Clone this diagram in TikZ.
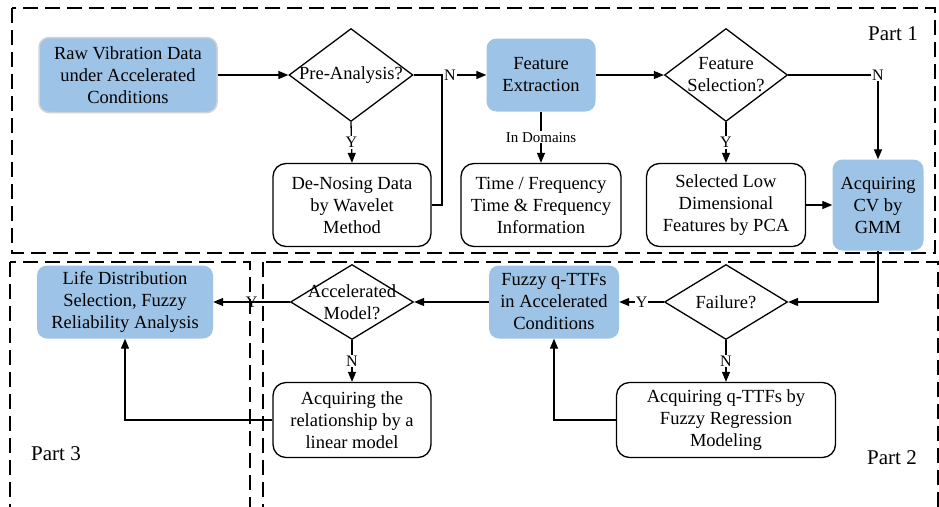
\documentclass[tikz,border=0pt]{standalone}
\usepackage{fontspec}
\setmainfont{Liberation Serif}
\usetikzlibrary{arrows.meta,shapes.geometric}
\definecolor{boxblue}{RGB}{157,195,230}
\tikzset{
  x=1pt,y=-1pt,
  txt/.style={font=\fontsize{18.5}{22}\selectfont, align=center},
  bluebox/.style={txt, rectangle, rounded corners=10pt, fill=boxblue, draw=none, inner sep=0pt},
  whitebox/.style={txt, rectangle, rounded corners=13pt, fill=white, draw=black, line width=1.3pt, inner sep=0pt},
  dia/.style={diamond, draw=black, line width=1.3pt, fill=white, inner sep=0pt},
  conn/.style={line width=1.3pt, draw=black},
  arr/.style={conn, -{Triangle[length=10pt,width=8pt]}},
  yn/.style={font=\fontsize{16}{18}\selectfont, fill=white, inner sep=1pt},
  part/.style={dashed, dash pattern=on 15pt off 7pt, line width=1.2pt},
  partlbl/.style={font=\fontsize{21}{24}\selectfont},
}
\begin{document}
\begin{tikzpicture}
\useasboundingbox (0,0) rectangle (939,506);
\clip (0,0) rectangle (939,506);
% part frames
\draw[part] (12,8) rectangle (935,253);
\draw[part] (10,262) rectangle (250,520);
\draw[part] (263,262) rectangle (938,520);
\node[partlbl] (p1) at (893,34) {Part 1};
\node[partlbl] (p2) at (892,458) {Part 2};
\node[partlbl] (p3) at (56,454) {Part 3};

% nodes
\node[bluebox, draw=gray!35, line width=1.5pt, minimum width=178pt, minimum height=75pt] (raw) at (128,75) {Raw Vibration Data\\under Accelerated\\Conditions};
\node[dia, minimum width=124pt, minimum height=93pt] (pa) at (351,75) {};
\node[txt] (paT) at (pa.center) {Pre-Analysis?};
\node[whitebox, minimum width=158pt, minimum height=83pt] (den) at (352,205) {De-Nosing Data\\by Wavelet\\Method};
\node[bluebox, minimum width=109pt, minimum height=73pt] (fe) at (541,75) {Feature\\Extraction};
\node[whitebox, minimum width=160pt, minimum height=83pt] (tf) at (541,205) {Time / Frequency\\Time \& Frequency\\Information};
\node[dia, minimum width=123pt, minimum height=93pt] (fs) at (726,75) {};
\node[txt] (fsT) at (fs.center) {Feature\\Selection?};
\node[whitebox, minimum width=159pt, minimum height=83pt] (sel) at (726,205) {Selected Low\\Dimensional\\Features by PCA};
\node[bluebox, minimum width=91pt, minimum height=91pt] (cv) at (878,205) {Acquiring\\CV by\\GMM};
\node[bluebox, minimum width=176pt, minimum height=73pt] (life) at (125,302) {Life Distribution\\Selection, Fuzzy\\Reliability Analysis};
\node[dia, minimum width=123pt, minimum height=75pt] (am) at (352,302) {};
\node[txt] (amT) at (am.center) {Accelerated\\Model?};
\node[whitebox, minimum width=158pt, minimum height=75pt] (rel) at (352,420) {Acquiring the\\relationship by a\\linear model};
\node[bluebox, minimum width=130pt, minimum height=73pt] (fq) at (554,302) {Fuzzy q-TTFs\\in Accelerated\\Conditions};
\node[dia, minimum width=123pt, minimum height=75pt] (fail) at (726,302) {};
\node[txt] (failT) at (fail.center) {Failure?};
\node[whitebox, minimum width=219pt, minimum height=75pt] (aq) at (726,420) {Acquiring q-TTFs by\\Fuzzy Regression\\Modeling};

% connectors
\coordinate (j1) at (442,75);
\coordinate (c1) at (878,75);
\draw[arr] (raw.east) -- (pa.west);
\draw[arr] (pa.east) -- node[yn, pos=0.5] {N} (fe.west);
\draw[conn] (den.east) -- (den.east -| j1) -- (j1);
\draw[arr] (pa.south) -- node[yn] {Y} (den.north);
\draw[arr] (fe.east) -- (fs.west);
\draw[arr] (fe.south) -- node[yn, font=\fontsize{15}{17}\selectfont] {In Domains} (tf.north);
\draw[arr] (fs.east) -- (c1) -- (cv.north);
\node[yn] (nlbl) at (c1) {N};
\draw[arr] (fs.south) -- node[yn] {Y} (sel.north);
\draw[arr] (sel.east) -- (cv.west);
\draw[arr] (cv.south) -- (cv.south |- fail.east) -- (fail.east);
\draw[arr] (fail.west) -- node[yn] {Y} (fq.east);
\draw[arr] (fail.south) -- node[yn] {N} (aq.north);
\draw[arr] (aq.west) -- (fq.south |- aq.west) -- (fq.south);
\draw[arr] (fq.west) -- (am.east);
\draw[arr] (am.west) -- node[yn, fill=none] {Y} (life.east);
\draw[arr] (am.south) -- node[yn] {N} (rel.north);
\draw[arr] (rel.west) -- (life.south |- rel.west) -- (life.south);
\end{tikzpicture}
\end{document}
